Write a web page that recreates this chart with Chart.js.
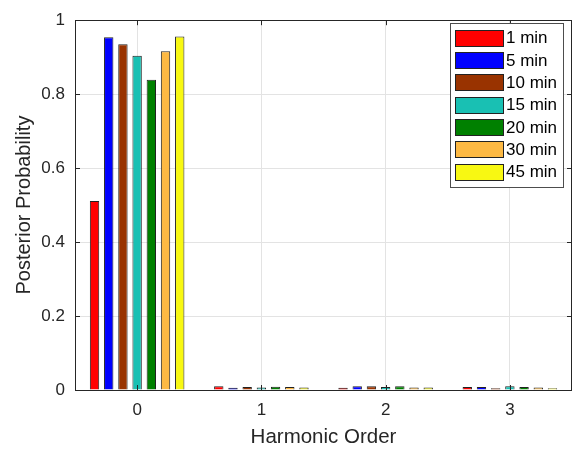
<!DOCTYPE html>
<html>
<head>
<meta charset="utf-8">
<script src="https://cdn.jsdelivr.net/npm/chart.js@4.4.1/dist/chart.umd.min.js"></script>
<style>
    html, body { margin: 0; padding: 0; background: #fff; }
    #wrap { width: 575px; height: 451px; position: relative; }
</style>
</head>
<body>
<div id="wrap"><canvas id="harmonicChart"></canvas></div>
<script>
// harmonic orders on the x axis
const harmonicOrders = ['0', '1', '2', '3'];

// one series per time interval
const intervalLabels = ['1 min', '5 min', '10 min', '15 min', '20 min', '30 min', '45 min'];
const min1 = [0.511, 0.010, 0.006, 0.008];
const min5 = [0.954, 0.006, 0.010, 0.008];
const min10 = [0.935, 0.008, 0.010, 0.005];
const min15 = [0.904, 0.007, 0.008, 0.010];
const min20 = [0.839, 0.009, 0.010, 0.008];
const min30 = [0.916, 0.008, 0.007, 0.007];
const min45 = [0.956, 0.007, 0.007, 0.005];

const yTicks = [0, 0.2, 0.4, 0.6, 0.8, 1];

const seriesColors = ['#ff0000', '#0000ff', '#993300', '#19c0b3', '#008000', '#fdb943', '#f8f812'];
const seriesValues = [min1, min5, min10, min15, min20, min30, min45];

const axisColor = '#262626';
const font = 'Liberation Sans, Arial, Helvetica, sans-serif';

// box around the axes with inward ticks, like the original figure
const frame = {
    id: 'frame',
    afterDatasetsDraw(chart) {
        const {ctx, chartArea: a, scales: {x, y}} = chart;
        ctx.save();
        ctx.strokeStyle = axisColor;
        ctx.lineWidth = 1;
        ctx.strokeRect(Math.round(a.left) + 0.5, Math.round(a.top) + 0.5,
            Math.round(a.right - a.left) - 1, Math.round(a.bottom - a.top));
        ctx.beginPath();
        const len = 5;
        for (let i = 0; i < harmonicOrders.length; i++) {
            const px = Math.round(x.getPixelForValue(i)) + 0.5;
            ctx.moveTo(px, a.bottom); ctx.lineTo(px, a.bottom - len);
            ctx.moveTo(px, a.top); ctx.lineTo(px, a.top + len);
        }
        yTicks.forEach(v => {
            const py = Math.round(y.getPixelForValue(v)) + 0.5;
            ctx.moveTo(a.left, py); ctx.lineTo(a.left + len, py);
            ctx.moveTo(a.right, py); ctx.lineTo(a.right - len, py);
        });
        ctx.stroke();
        ctx.restore();
    }
};

// legend box in the upper right corner of the plot
const boxLegend = {
    id: 'boxLegend',
    afterDraw(chart) {
        const ctx = chart.ctx;
        const x0 = 450.5, y0 = 23.5, w = 113, h = 164;
        ctx.save();
        ctx.fillStyle = '#fff';
        ctx.fillRect(x0, y0, w, h);
        ctx.strokeStyle = '#4d4d4d';
        ctx.lineWidth = 1;
        ctx.strokeRect(x0, y0, w, h);
        ctx.font = '17px ' + font;
        ctx.textBaseline = 'middle';
        chart.data.datasets.forEach((ds, i) => {
            const cy = 37.5 + i * 22.35;
            ctx.fillStyle = ds.backgroundColor;
            ctx.fillRect(455.5, Math.round(cy - 8) + 0.5, 48, 16);
            ctx.strokeStyle = '#222';
            ctx.strokeRect(455.5, Math.round(cy - 8) + 0.5, 48, 16);
            ctx.fillStyle = '#000';
            ctx.fillText(ds.label, 506, cy + 1);
        });
        ctx.restore();
    }
};

let harmonicChart = new Chart(document.getElementById('harmonicChart'), {
    type: 'bar',
    data: {
        labels: harmonicOrders,
        datasets: intervalLabels.map((label, i) => ({
            label: label,
            data: seriesValues[i],
            backgroundColor: seriesColors[i],
            borderColor: '#222',
            borderWidth: 1,
            categoryPercentage: 0.8,
            barPercentage: 0.66
        }))
    },
    options: {
        responsive: true,
        maintainAspectRatio: false,
        animation: false,
        layout: {
            padding: { top: 14, right: 3, left: 0, bottom: 0 }
        },
        plugins: {
            legend: { display: false },
            tooltip: { enabled: false }
        },
        scales: {
            x: {
                grid: { color: '#e3e3e3', offset: false, drawTicks: false },
                border: { display: false },
                ticks: {
                    color: axisColor,
                    font: { family: font, size: 17 },
                    padding: 10
                },
                title: {
                    display: true,
                    text: 'Harmonic Order',
                    color: axisColor,
                    font: { family: font, size: 20.5 },
                    padding: { top: 0, bottom: 1 }
                },
                afterFit(scale) { scale.height = 61; }
            },
            y: {
                min: 0,
                max: 1,
                afterBuildTicks(scale) { scale.ticks = yTicks.map(v => ({ value: v })); },
                grid: { color: '#e3e3e3', drawTicks: false },
                border: { display: false },
                ticks: {
                    color: axisColor,
                    font: { family: font, size: 17 },
                    padding: 10,
                    callback: v => String(v)
                },
                title: {
                    display: true,
                    text: 'Posterior Probability',
                    color: axisColor,
                    font: { family: font, size: 20 },
                    padding: { top: 12, bottom: 0 }
                },
                afterFit(scale) { scale.width = 75; }
            }
        }
    },
    plugins: [frame, boxLegend]
});
</script>
</body>
</html>
